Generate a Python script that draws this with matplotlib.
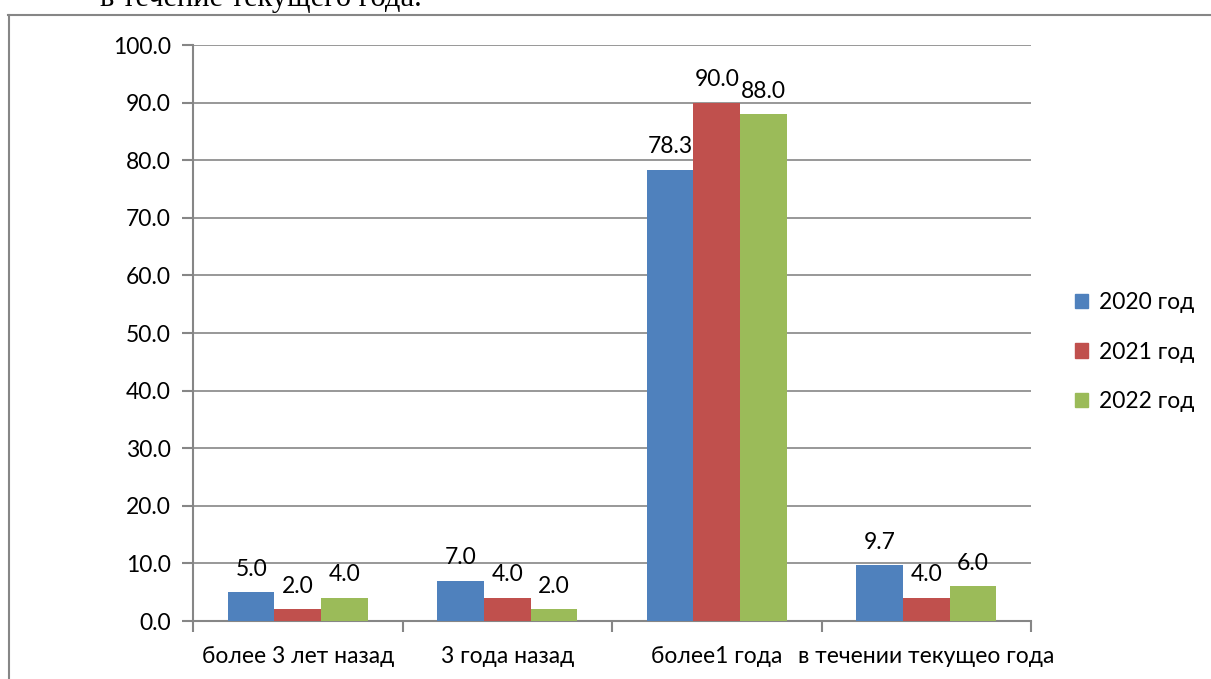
import matplotlib
matplotlib.use("Agg")
import matplotlib.pyplot as plt
import numpy as np
from matplotlib.lines import Line2D

categories = ["более 3 лет назад", "3 года назад", "более1 года", "в течении текущео года"]
series_names = ["2020 год", "2021 год", "2022 год"]
v2020 = [5.0, 7.0, 78.3, 9.7]
v2021 = [2.0, 4.0, 90.0, 4.0]
v2022 = [4.0, 2.0, 88.0, 6.0]
yticks = [0, 10, 20, 30, 40, 50, 60, 70, 80, 90, 100]

colors = ["#4F81BD", "#C0504D", "#9BBB59"]
grid_c = "#868686"
FS = 16.5

plt.rcParams['font.family'] = ['Lato', 'DejaVu Sans']

W, H = 1211, 679
fig = plt.figure(figsize=(W / 100, H / 100), dpi=100)
ax = fig.add_axes([193 / W, 1 - 621 / H, (1031 - 193) / W, (621 - 45) / H])

n = len(categories)
x = np.arange(n)
bw = 1 / 4.5
series = [v2020, v2021, v2022]
for i, (vals, c, name) in enumerate(zip(series, colors, series_names)):
    pos = x + (i - 1) * bw
    ax.bar(pos, vals, width=bw, color=c, label=name, zorder=3)
    for p, v in zip(pos, vals):
        ax.annotate(f"{v:.1f}", (p, v), xytext=(0, 9), textcoords="offset points",
                    ha="center", va="bottom", fontsize=FS, color="black", zorder=4)

ax.set_xlim(-0.5, n - 0.5)
ax.set_ylim(0, 100)
ax.set_yticks(yticks)
ax.set_yticklabels([f"{t:.1f}" for t in yticks], fontsize=FS)
ax.yaxis.grid(True, color=grid_c, linewidth=1.2, zorder=0)
ax.set_axisbelow(True)

ax.set_xticks(np.arange(-0.5, n, 1.0))
ax.set_xticklabels([])
ax.set_xticks(x, minor=True)
ax.set_xticklabels(categories, minor=True, fontsize=FS)
ax.tick_params(axis="x", which="minor", length=0, pad=18)
ax.tick_params(axis="x", which="major", length=8, width=1.5, color=grid_c)
ax.tick_params(axis="y", length=8, width=1.5, color=grid_c, pad=8)

for s in ["top", "right"]:
    ax.spines[s].set_visible(False)
for s in ["left", "bottom"]:
    ax.spines[s].set_color(grid_c)
    ax.spines[s].set_linewidth(1.5)

handles = [plt.Rectangle((0, 0), 1, 1, color=c) for c in colors]
fig.legend(handles, series_names, loc="center left",
           bbox_to_anchor=(1054 / W, 1 - 352 / H), frameon=False, fontsize=FS,
           handlelength=0.6, handleheight=0.6, handletextpad=0.45, labelspacing=1.25)

# outer frame
fig.add_artist(Line2D([8.5 / W, 8.5 / W], [0, 1 - 15 / H], transform=fig.transFigure,
                      color=grid_c, linewidth=1.5))
fig.add_artist(Line2D([8 / W, 1], [1 - 15 / H, 1 - 15 / H], transform=fig.transFigure,
                      color=grid_c, linewidth=1.5))

# cut-off heading text at the top (cut off in the reference too)
fig.text(100 / W, 1 - 6 / H, "в течение текущего года.", family="Liberation Serif",
         fontsize=22, va="baseline", ha="left")

fig.savefig("out.png", dpi=100)
